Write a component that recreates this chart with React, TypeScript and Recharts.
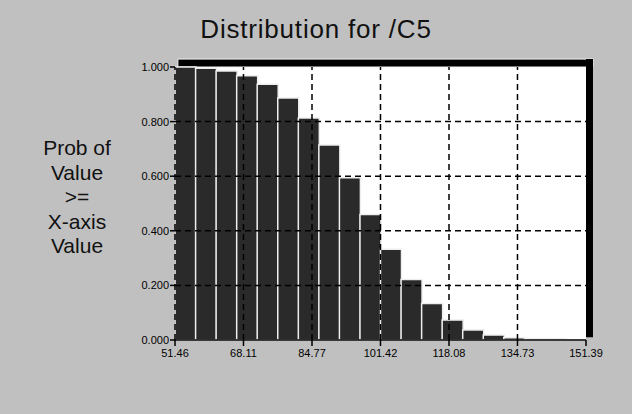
import React from 'react';
import { ComposedChart, Bar, XAxis, YAxis, CartesianGrid, ReferenceLine, ReferenceArea } from 'recharts';

const binCenters = [53.96, 58.96, 63.95, 68.95, 73.94, 78.94, 83.94, 88.93, 93.93, 98.93, 103.92, 108.92, 113.92, 118.91, 123.91, 128.91, 133.9, 138.9, 143.9, 148.89];
const probValues = [1.0, 0.995, 0.985, 0.968, 0.937, 0.886, 0.813, 0.714, 0.594, 0.46, 0.332, 0.222, 0.134, 0.073, 0.037, 0.018, 0.008, 0.005, 0.004, 0.001];
const xTicks = [51.46, 68.11, 84.77, 101.42, 118.08, 134.73, 151.39];
const yTicks = [0, 0.2, 0.4, 0.6, 0.8, 1.0];
const yLabelLines = ['Prob of', 'Value', '>=', 'X-axis', 'Value'];
const title = 'Distribution for /C5';

const data = binCenters.map((c, i) => ({ x: c, prob: probValues[i] }));

const FONT = '"Liberation Sans", Arial, sans-serif';
const xMin = xTicks[0];
const xMax = xTicks[xTicks.length - 1];

export default function App() {
  return (
    <div style={{ position: 'relative', width: 632, height: 414, background: '#c0c0c0', fontFamily: FONT }}>
      <style>{'body{margin:0;}'}</style>
      <div style={{ position: 'absolute', left: 0, width: 632, top: 14, textAlign: 'center', fontSize: 26, letterSpacing: 0.8, color: '#111', lineHeight: '30px' }}>
        {title}
      </div>
      <div style={{ position: 'absolute', left: 17, width: 120, top: 136, textAlign: 'center', fontSize: 21, color: '#111', lineHeight: '24.5px' }}>
        {yLabelLines.map((l, i) => (
          <div key={i}>{l}</div>
        ))}
      </div>
      <div style={{ position: 'absolute', left: 0, top: 0 }}>
        <ComposedChart
          width={632}
          height={414}
          data={data}
          margin={{ top: 67, right: 46, bottom: 44, left: 130 }}
          barCategoryGap={0}
          barGap={0}
        >
          <CartesianGrid fill="#ffffff" horizontal={false} vertical={false} stroke="none" />
          <XAxis
            dataKey="x"
            type="number"
            domain={[xMin, xMax]}
            ticks={xTicks}
            allowDataOverflow
            height={30}
            tickFormatter={(v: number) => v.toFixed(2)}
            axisLine={{ stroke: '#000', strokeWidth: 1.5 }}
            tickLine={{ stroke: '#000', strokeWidth: 1.5 }}
            tickSize={6}
            tickMargin={3}
            tick={{ fontSize: 11, fill: '#000', fontFamily: FONT }}
            interval={0}
          />
          <YAxis
            type="number"
            domain={[0, 1]}
            ticks={yTicks}
            width={45}
            tickFormatter={(v: number) => v.toFixed(3)}
            axisLine={false}
            tickLine={{ stroke: '#000', strokeWidth: 1.5 }}
            tickSize={5}
            tickMargin={1}
            tick={{ fontSize: 11, fill: '#000', fontFamily: FONT }}
            interval={0}
          />
          <Bar
            dataKey="prob"
            fill="#2a2a2a"
            stroke="#eeeeee"
            strokeWidth={1.5}
            isAnimationActive={false}
          />
          {yTicks.slice(1, 5).map((y) => (
            <ReferenceLine key={'h' + y} y={y} stroke="#000" strokeWidth={1.5} strokeDasharray="6 4" />
          ))}
          {xTicks.slice(0, 6).map((x) => (
            <ReferenceLine key={'v' + x} x={x} stroke="#000" strokeWidth={1.5} strokeDasharray="6 4" />
          ))}
          <ReferenceArea
            x1={xMin + 0.7}
            x2={xMax + 1.7}
            y1={1.0}
            y2={1.029}
            fill="#000"
            fillOpacity={1}
            stroke="#f4f4f4"
            strokeWidth={1}
            ifOverflow="visible"
          />
          <ReferenceArea
            x1={xMax}
            x2={xMax + 1.7}
            y1={0.01}
            y2={1.029}
            fill="#000"
            fillOpacity={1}
            stroke="none"
            ifOverflow="visible"
          />
        </ComposedChart>
      </div>
    </div>
  );
}
